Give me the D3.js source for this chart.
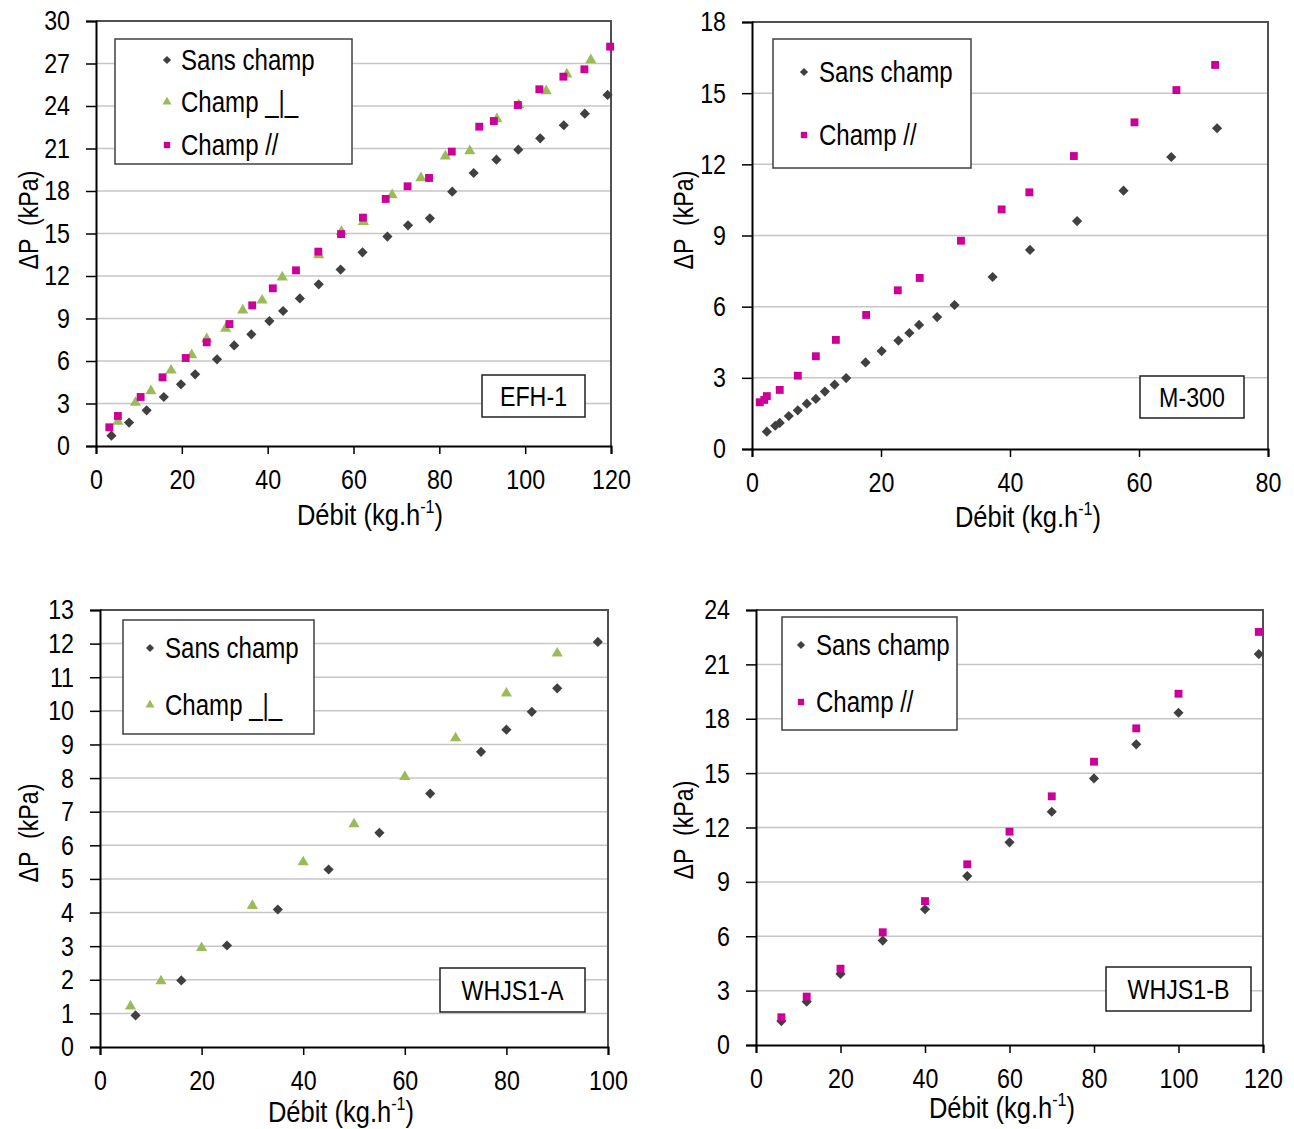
<!DOCTYPE html>
<html><head><meta charset="utf-8">
<script src="https://cdn.jsdelivr.net/npm/d3@7"></script>
<style>
body{margin:0;background:#fff;}
svg text{font-family:"Liberation Sans Narrow","Arial Narrow","Liberation Sans",Arial,sans-serif;fill:#000;}
</style></head>
<body><svg id="c" width="1294" height="1129"></svg>
<script>
// ---------- DATA ----------
const seriesNames = ["Sans champ", "Champ _|_", "Champ //"];
const panelNames = ["EFH-1", "M-300", "WHJS1-A", "WHJS1-B"];
const xTitle = "Débit (kg.h";
const yTitle = "ΔP  (kPa)";

// EFH-1
const efhSansX = [3.6, 7.7, 11.8, 15.8, 19.8, 23.1, 28.2, 32.2, 36.2, 40.4, 43.6, 47.5, 51.9, 57.0, 62.1, 67.9, 72.7, 77.8, 83.0, 88.0, 93.3, 98.4, 103.5, 109.0, 113.9, 119.2];
const efhSansY = [0.73, 1.65, 2.52, 3.46, 4.35, 5.06, 6.12, 7.1, 7.88, 8.82, 9.53, 10.42, 11.41, 12.45, 13.67, 14.78, 15.58, 16.07, 17.95, 19.27, 20.21, 20.92, 21.72, 22.64, 23.46, 24.78];
const efhPerpX = [5.1, 9.2, 12.8, 17.5, 22.3, 25.8, 30.2, 34.2, 38.7, 43.4, 51.9, 57.2, 62.3, 69.0, 75.7, 81.4, 87.1, 93.4, 98.5, 104.9, 109.7, 115.3];
const efhPerpY = [1.72, 3.06, 3.88, 5.34, 6.42, 7.55, 8.3, 9.58, 10.28, 11.91, 13.48, 15.13, 15.83, 17.72, 18.92, 20.45, 20.82, 23.08, 24.07, 25.06, 26.24, 27.25];
const efhParX = [3.1, 5.1, 10.4, 15.5, 20.9, 25.8, 31.1, 36.4, 41.2, 46.6, 51.8, 57.1, 62.2, 67.5, 72.6, 77.6, 82.9, 89.3, 92.7, 98.3, 103.3, 108.9, 113.8, 119.8];
const efhParY = [1.32, 2.12, 3.46, 4.85, 6.21, 7.32, 8.61, 9.93, 11.13, 12.4, 13.72, 14.96, 16.12, 17.44, 18.33, 18.92, 20.78, 22.54, 22.94, 24.07, 25.18, 26.07, 26.59, 28.19];
const efhXTicks = [0, 20, 40, 60, 80, 100, 120];
const efhYTicks = [0, 3, 6, 9, 12, 15, 18, 21, 24, 27, 30];

// M-300
const mSansX = [2.3, 3.6, 4.3, 5.7, 7.1, 8.5, 9.9, 11.3, 12.8, 14.6, 17.6, 20.1, 22.7, 24.4, 25.9, 28.7, 31.4, 37.3, 43.1, 50.4, 57.6, 65.0, 72.1];
const mSansY = [0.73, 0.98, 1.10, 1.39, 1.63, 1.91, 2.11, 2.42, 2.71, 2.99, 3.65, 4.13, 4.57, 4.89, 5.23, 5.56, 6.07, 7.25, 8.39, 9.61, 10.89, 12.31, 13.52];
const mParX = [1.2, 1.9, 2.3, 4.3, 7.1, 9.9, 13.0, 17.7, 22.6, 26.0, 32.4, 38.7, 43.0, 49.9, 59.3, 65.8, 71.8];
const mParY = [1.97, 2.07, 2.23, 2.49, 3.09, 3.91, 4.6, 5.65, 6.69, 7.21, 8.78, 10.1, 10.82, 12.35, 13.77, 15.13, 16.19];
const mXTicks = [0, 20, 40, 60, 80];
const mYTicks = [0, 3, 6, 9, 12, 15, 18];

// WHJS1-A
const aSansX = [7, 16, 25, 35, 45, 55, 65, 75, 80, 85, 90, 98];
const aSansY = [0.94, 1.98, 3.02, 4.09, 5.28, 6.37, 7.54, 8.78, 9.44, 9.97, 10.67, 12.05];
const aPerpX = [6, 12, 20, 30, 40, 50, 60, 70, 80, 90];
const aPerpY = [1.21, 1.96, 2.95, 4.2, 5.5, 6.63, 8.04, 9.19, 10.52, 11.71];
const aXTicks = [0, 20, 40, 60, 80, 100];
const aYTicks = [0, 1, 2, 3, 4, 5, 6, 7, 8, 9, 10, 11, 12, 13];

// WHJS1-B
const bX = [6, 12, 20, 30, 40, 50, 60, 70, 80, 90, 100, 119];
const bSansY = [1.32, 2.39, 3.92, 5.76, 7.49, 9.32, 11.18, 12.87, 14.71, 16.59, 18.33, 21.57];
const bParY = [1.53, 2.67, 4.21, 6.22, 7.94, 9.97, 11.77, 13.72, 15.63, 17.47, 19.38, 22.79];
const bXTicks = [0, 20, 40, 60, 80, 100, 120];
const bYTicks = [0, 3, 6, 9, 12, 15, 18, 21, 24];

// ---------- STYLE / LAYOUT ----------
const K = 0.83;   // horizontal condensing of the font
const FS = 28;
const styles = {
  0: {sym: d3.symbolSquare, rot: 45, color: "#404040", size: 52},
  1: {sym: d3.symbolTriangle, rot: 0, color: "#9bbb59", size: 54},
  2: {sym: d3.symbolSquare, rot: 0, color: "#cc0099", size: 62}
};
const zip = (xs, ys) => xs.map((x, i) => ({x, y: ys[i]}));

const panels = [
  {name: panelNames[0], L: 96, R: 611, T: 21, B: 446, xd: [0, 120], yd: [0, 30], xt: efhXTicks, yt: efhYTicks,
   series: [{k: 0, d: zip(efhSansX, efhSansY)}, {k: 1, d: zip(efhPerpX, efhPerpY)}, {k: 2, d: zip(efhParX, efhParY)}],
   leg: {x: 115, y: 39, w: 237, h: 125, rows: [60, 102, 145], mx: 167, tx: 181},
   box: {x: 482, y: 375, w: 103, h: 42}, xTitle: [370, 525], yTitle: [28, 220]},
  {name: panelNames[1], L: 752, R: 1268, T: 22, B: 449, xd: [0, 80], yd: [0, 18], xt: mXTicks, yt: mYTicks,
   series: [{k: 0, d: zip(mSansX, mSansY)}, {k: 2, d: zip(mParX, mParY)}],
   leg: {x: 773, y: 39, w: 198, h: 129, rows: [72, 135], mx: 804, tx: 819},
   box: {x: 1140, y: 376, w: 104, h: 42}, xTitle: [1028, 527], yTitle: [683, 220]},
  {name: panelNames[2], L: 100, R: 608, T: 610, B: 1047, xd: [0, 100], yd: [0, 13], xt: aXTicks, yt: aYTicks,
   series: [{k: 0, d: zip(aSansX, aSansY)}, {k: 1, d: zip(aPerpX, aPerpY)}],
   leg: {x: 123, y: 620, w: 191, h: 114, rows: [648, 705], mx: 150, tx: 165},
   box: {x: 440, y: 968, w: 145, h: 44}, xTitle: [341, 1122], yTitle: [28, 833]},
  {name: panelNames[3], L: 756, R: 1263, T: 610, B: 1045, xd: [0, 120], yd: [0, 24], xt: bXTicks, yt: bYTicks,
   series: [{k: 0, d: zip(bX, bSansY)}, {k: 2, d: zip(bX, bParY)}],
   leg: {x: 782, y: 617, w: 175, h: 113, rows: [645, 702], mx: 801, tx: 816},
   box: {x: 1106, y: 967, w: 145, h: 44}, xTitle: [1002, 1118], yTitle: [683, 830]}
];

// condense a text horizontally about its own x anchor
function condense(sel, k = K) {
  sel.each(function() {
    const t = d3.select(this);
    const x = +(t.attr("x") || 0);
    t.attr("transform", `translate(${x * (1 - k)},0) scale(${k},1)`);
  });
}

const svg = d3.select("#c");

panels.forEach(p => {
  const x = d3.scaleLinear().domain(p.xd).range([p.L, p.R]);
  const y = d3.scaleLinear().domain(p.yd).range([p.B, p.T]);
  const g = svg.append("g");

  // gridlines
  g.append("g").selectAll("line").data(p.yt.filter(v => v > p.yd[0])).join("line")
    .attr("x1", p.L).attr("x2", p.R).attr("y1", d => y(d)).attr("y2", d => y(d))
    .attr("stroke", "#c6c6c6").attr("stroke-width", 1.5);

  // frame (top/right)
  g.append("path").attr("d", `M${p.L},${p.T}H${p.R}V${p.B}`)
    .attr("fill", "none").attr("stroke", "#505050").attr("stroke-width", 2);

  // axes
  const ax = g.append("g").attr("transform", `translate(0,${p.B})`)
    .call(d3.axisBottom(x).tickValues(p.xt).tickSize(8).tickPadding(15).tickFormat(d3.format("d")));
  const ay = g.append("g").attr("transform", `translate(${p.L},0)`)
    .call(d3.axisLeft(y).tickValues(p.yt).tickSize(10).tickPadding(16).tickFormat(d3.format("d")));
  [ax, ay].forEach(a => {
    a.select(".domain").attr("stroke", "#000").attr("stroke-width", 2);
    a.selectAll(".tick line").attr("stroke", "#000").attr("stroke-width", 1.5);
    a.selectAll(".tick text").attr("font-size", FS).attr("font-family", null).call(condense);
  });

  // points
  p.series.forEach(s => {
    const st = styles[s.k];
    g.append("g").selectAll("path").data(s.d).join("path")
      .attr("transform", d => `translate(${x(d.x)},${y(d.y)}) rotate(${st.rot})`)
      .attr("d", d3.symbol(st.sym, st.size))
      .attr("fill", st.color);
  });

  // legend
  const lg = g.append("g");
  lg.append("rect").attr("x", p.leg.x).attr("y", p.leg.y).attr("width", p.leg.w).attr("height", p.leg.h)
    .attr("fill", "#fff").attr("stroke", "#404040").attr("stroke-width", 1.5);
  p.series.forEach((s, i) => {
    const st = styles[s.k];
    const cy = p.leg.rows[i];
    lg.append("path").attr("transform", `translate(${p.leg.mx},${cy}) rotate(${st.rot})`)
      .attr("d", d3.symbol(st.sym, st.size * 0.65)).attr("fill", st.color);
    lg.append("text").attr("x", p.leg.tx).attr("y", cy).attr("dy", "0.36em")
      .attr("font-size", 29).text(seriesNames[s.k]).call(condense);
  });

  // name box
  g.append("rect").attr("x", p.box.x).attr("y", p.box.y).attr("width", p.box.w).attr("height", p.box.h)
    .attr("fill", "#fff").attr("stroke", "#202020").attr("stroke-width", 1.5);
  g.append("text").attr("x", p.box.x + p.box.w / 2).attr("y", p.box.y + p.box.h / 2).attr("dy", "0.36em")
    .attr("text-anchor", "middle").attr("font-size", FS).text(p.name).call(condense);

  // x title
  const xt = g.append("text").attr("x", p.xTitle[0]).attr("y", p.xTitle[1])
    .attr("text-anchor", "middle").attr("font-size", 30);
  xt.append("tspan").text(xTitle);
  xt.append("tspan").attr("font-size", 19).attr("dy", -12).text("-1");
  xt.append("tspan").attr("dy", 12).text(")");
  xt.call(condense, 0.85);

  // y title
  g.append("text").attr("transform", `translate(${p.yTitle[0]},${p.yTitle[1]}) rotate(-90) scale(${K},1)`)
    .attr("text-anchor", "middle").attr("dy", "0.36em").attr("font-size", FS)
    .style("white-space", "pre").text(yTitle);
});
</script></body></html>
